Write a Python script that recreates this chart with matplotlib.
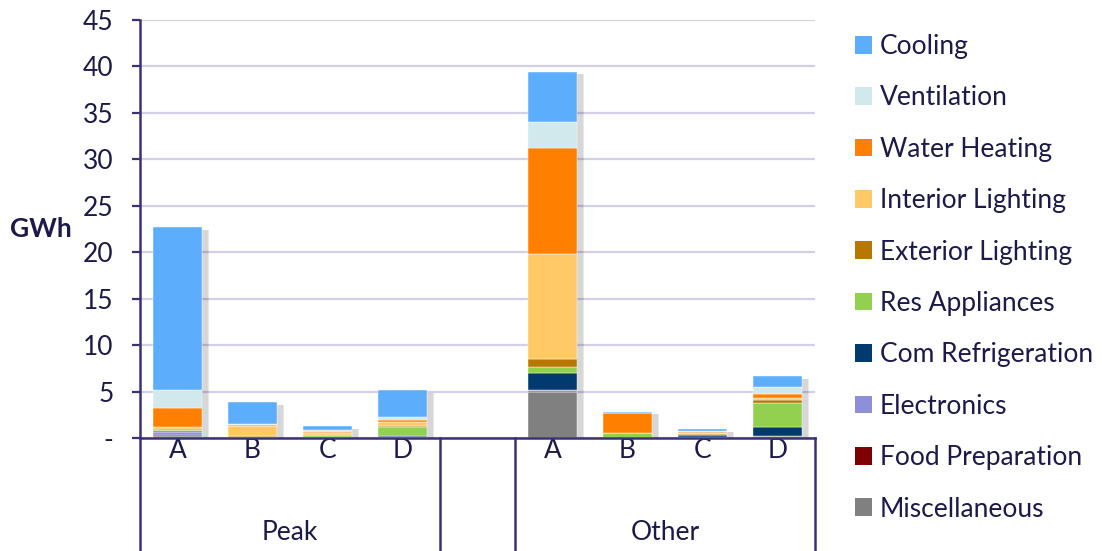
import numpy as np
import matplotlib
matplotlib.use("Agg")
import matplotlib.pyplot as plt
from matplotlib.patches import Patch
from matplotlib.transforms import blended_transform_factory

plt.rcParams['font.family'] = ['Lato', 'DejaVu Sans']

groups = ["Peak", "Other"]
categories = ["A", "B", "C", "D"]

# GWh by end use, order: Peak A-D then Other A-D
misc = [0.25, 0.05, 0.05, 0.05, 4.9, 0.02, 0.10, 0.20]
food_prep = [0.02, 0.0, 0.0, 0.0, 0.20, 0.0, 0.0, 0.0]
electronics = [0.35, 0.02, 0.02, 0.02, 0.07, 0.01, 0.02, 0.02]
com_refrig = [0.15, 0.02, 0.05, 0.12, 1.85, 0.02, 0.15, 1.00]
res_appl = [0.12, 0.03, 0.15, 1.00, 0.57, 0.45, 0.10, 2.58]
ext_light = [0.10, 0.05, 0.05, 0.10, 0.90, 0.02, 0.05, 0.29]
int_light = [0.20, 1.10, 0.18, 0.45, 11.3, 0.05, 0.13, 0.25]
water_heat = [2.00, 0.15, 0.12, 0.15, 11.45, 2.10, 0.08, 0.36]
ventilation = [1.95, 0.05, 0.22, 0.35, 2.80, 0.05, 0.15, 0.75]
cooling = [17.6, 2.40, 0.42, 2.95, 5.40, 0.12, 0.15, 1.22]

series = [
    ("Miscellaneous", misc, "#808080"),
    ("Food Preparation", food_prep, "#7f0000"),
    ("Electronics", electronics, "#8e8fdb"),
    ("Com Refrigeration", com_refrig, "#003a6e"),
    ("Res Appliances", res_appl, "#92d050"),
    ("Exterior Lighting", ext_light, "#b77800"),
    ("Interior Lighting", int_light, "#ffc966"),
    ("Water Heating", water_heat, "#ff8000"),
    ("Ventilation", ventilation, "#d1e8ec"),
    ("Cooling", cooling, "#5cadfb"),
]

txt = "#1c1a4a"
axis_col = "#3d3170"
grid_col = "#d4cfe8"
fs = 19

x = np.array([0, 1, 2, 3, 5, 6, 7, 8])
width = 0.66

fig = plt.figure(figsize=(11.02, 5.51), dpi=100)
ax = fig.add_axes([140 / 1102, 113 / 551, 675 / 1102, 418 / 551])

totals = np.sum([s[1] for s in series], axis=0)

# soft drop shadow behind each stack
for k, a in enumerate([0.04, 0.05, 0.07]):
    grow = 0.05 - k * 0.02
    ax.bar(x + 0.07, totals - 0.3, width=width + grow, bottom=0,
           color="black", alpha=a, linewidth=0, zorder=1)

bottom = np.zeros(len(x))
for name, vals, col in series:
    vals = np.array(vals)
    ax.bar(x, vals, width=width, bottom=bottom, color=col,
           edgecolor="white", linewidth=0.3, zorder=3)
    bottom += vals

ax.set_xlim(-0.5, 8.5)
ax.set_ylim(0, 45)
ax.set_yticks(np.arange(0, 46, 5))
ax.set_yticklabels(["-"] + [str(v) for v in range(5, 46, 5)])
ax.yaxis.grid(True, color=grid_col, linewidth=1.6, zorder=0)
ax.set_axisbelow(True)

for side in ["top", "right"]:
    ax.spines[side].set_visible(False)
for side in ["left", "bottom"]:
    ax.spines[side].set_color(axis_col)
    ax.spines[side].set_linewidth(1.8)
    ax.spines[side].set_zorder(4)

ax.tick_params(axis="y", length=6, width=1.6, color=axis_col,
               labelsize=fs, labelcolor=txt, pad=13)
ax.set_xticks(x)
ax.set_xticklabels(categories * 2)
ax.tick_params(axis="x", length=0, labelsize=fs, labelcolor=txt, pad=0)

ax.text(-0.147, 0.5, "GWh", transform=ax.transAxes, fontsize=fs,
        fontweight="bold", color=txt, ha="center", va="center")

# multi-level category axis: separators and group names
trans = blended_transform_factory(ax.transData, ax.transAxes)
for sx in [-0.5, 3.5, 4.5, 8.5]:
    ax.plot([sx, sx], [0, -0.28], transform=trans, color=axis_col,
            linewidth=1.8, clip_on=False, zorder=5)
for gname, gx in zip(groups, [1.5, 6.5]):
    ax.text(gx, -0.225, gname, transform=trans, fontsize=fs, color=txt,
            ha="center", va="center")

handles = [Patch(facecolor=col, edgecolor="none", label=name)
           for name, vals, col in series[::-1]]
fig.legend(handles=handles, loc="upper left",
           bbox_to_anchor=(855 / 1102, 1 - 34 / 551), frameon=False,
           fontsize=fs, labelcolor=txt, handlelength=0.65,
           handleheight=0.65, handletextpad=0.3, labelspacing=1.0,
           borderaxespad=0, borderpad=0)

fig.savefig("out.png", dpi=100)
